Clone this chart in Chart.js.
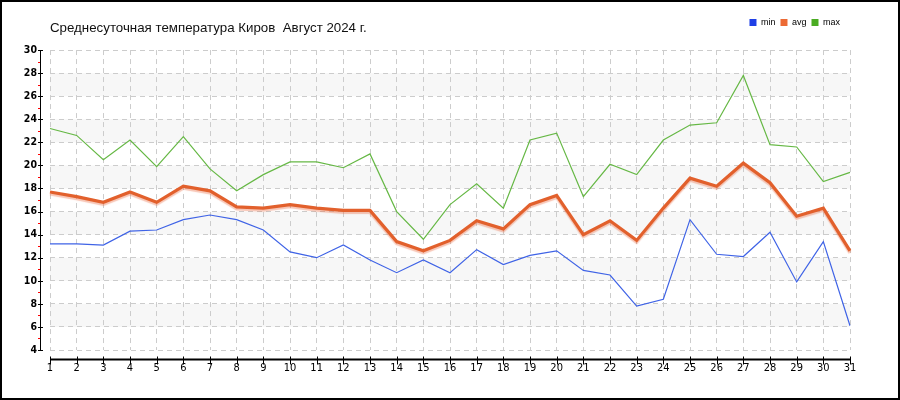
<!DOCTYPE html>
<html>
<head>
<meta charset="utf-8">
<script src="https://cdn.jsdelivr.net/npm/chart.js@4/dist/chart.umd.min.js"></script>
<style>
  html, body { margin: 0; padding: 0; background: #fff; }
  #wrap { width: 900px; height: 400px; position: relative; }
</style>
</head>
<body>
<div id="wrap"><canvas id="c" width="900" height="400"></canvas></div>
<script>
const titleText = 'Среднесуточная температура Киров  Август 2024 г.';
const days = ['1','2','3','4','5','6','7','8','9','10','11','12','13','14','15','16','17','18','19','20','21','22','23','24','25','26','27','28','29','30','31'];
const minTemps = [13.2,13.2,13.1,14.3,14.4,15.3,15.7,15.3,14.4,12.5,12.0,13.1,11.8,10.7,11.8,10.7,12.7,11.4,12.2,12.6,10.9,10.5,7.8,8.4,15.3,12.3,12.1,14.2,9.9,13.4,6.1];
const avgTemps = [17.7,17.3,16.8,17.7,16.8,18.2,17.8,16.4,16.3,16.6,16.3,16.1,16.1,13.4,12.6,13.5,15.2,14.5,16.6,17.4,14.0,15.2,13.5,16.3,18.9,18.2,20.2,18.5,15.6,16.3,12.6];
const maxTemps = [23.2,22.6,20.5,22.2,19.9,22.5,19.7,17.8,19.2,20.3,20.3,19.8,21.0,16.0,13.6,16.6,18.4,16.3,22.2,22.8,17.3,20.1,19.2,22.2,23.5,23.7,27.8,21.8,21.6,18.6,19.4];
const seriesNames = ['min','avg','max'];
const yMin = 4, yMax = 30, yStep = 2;

const lineColors = ['#3f63e6','#e2602c','#66b845'];
const legendColors = ['#1f3fe6','#ec6a34','#4aac22'];
const tickFont = "'Liberation Sans Narrow','DejaVu Sans Condensed','Liberation Sans',sans-serif";

const decor = {
  id: 'decor',
  afterLayout(chart) {
    const lg = chart.legend;
    if (lg) {
      lg.top += 4.5;
      lg.height = 30;
      lg.bottom = lg.top + 30;
      lg.right -= 5;
    }
  },
  beforeDraw(chart) {
    const {ctx, chartArea: a, scales: {y}} = chart;
    ctx.save();
    ctx.fillStyle = '#f7f7f7';
    for (let v = yMin + yStep; v < yMax; v += 2 * yStep) {
      const t = y.getPixelForValue(v + yStep), b = y.getPixelForValue(v);
      ctx.fillRect(a.left, t, a.right - a.left, b - t);
    }
    ctx.restore();
  },
  beforeDatasetDraw(chart, args) {
    if (args.index === 1) {
      const ctx = chart.ctx;
      ctx.save();
      ctx.shadowColor = 'rgba(235,110,70,0.4)';
      ctx.shadowOffsetX = 0;
      ctx.shadowOffsetY = 2;
      ctx.shadowBlur = 1;
    }
  },
  afterDatasetDraw(chart, args) {
    if (args.index === 1) chart.ctx.restore();
  },
  afterDraw(chart) {
    const {ctx, chartArea: a, scales: {x, y}} = chart;
    ctx.save();
    const ax = a.left - 10;
    ctx.strokeStyle = '#000';
    ctx.lineWidth = 1;
    ctx.beginPath();
    ctx.moveTo(ax + 0.5, y.getPixelForValue(yMax));
    ctx.lineTo(ax + 0.5, y.getPixelForValue(yMin) + 0.5);
    y.ticks.forEach(t => {
      const py = Math.round(y.getPixelForValue(t.value)) + 0.5;
      ctx.moveTo(ax - 2, py);
      ctx.lineTo(ax + 3, py);
    });
    ctx.stroke();
    ctx.strokeStyle = '#ff0000';
    ctx.beginPath();
    for (let v = yMin + 1; v < yMax; v += 2) {
      const py = Math.round(y.getPixelForValue(v)) + 0.5;
      ctx.moveTo(ax - 2, py);
      ctx.lineTo(ax, py);
    }
    ctx.stroke();
    const ay = a.bottom + 9.5;
    ctx.strokeStyle = '#000';
    ctx.lineWidth = 2;
    ctx.beginPath();
    ctx.moveTo(x.getPixelForValue(0), ay);
    ctx.lineTo(x.getPixelForValue(days.length - 1), ay);
    ctx.stroke();
    ctx.lineWidth = 1;
    ctx.beginPath();
    days.forEach((d, i) => {
      const px = Math.round(x.getPixelForValue(i)) + 0.5;
      ctx.moveTo(px, ay - 3);
      ctx.lineTo(px, ay + 5);
    });
    ctx.stroke();
    ctx.lineWidth = 2;
    ctx.strokeRect(1, 1, chart.width - 2, chart.height - 2);
    ctx.restore();
  }
};

const mk = (i, data, w) => ({
  label: seriesNames[i],
  data,
  borderColor: lineColors[i],
  backgroundColor: legendColors[i],
  borderWidth: w,
  pointRadius: 0,
  pointHoverRadius: 0,
  tension: 0,
  fill: false
});

new Chart(document.getElementById('c'), {
  type: 'line',
  data: {
    labels: days,
    datasets: [mk(0, minTemps, 1.2), mk(1, avgTemps, 3.2), mk(2, maxTemps, 1.2)]
  },
  options: {
    responsive: false,
    animation: false,
    events: [],
    layout: { padding: { left: 0, right: 50, top: 8.5, bottom: 0 } },
    plugins: {
      tooltip: { enabled: false },
      legend: {
        position: 'top',
        align: 'end',
        weight: 3000,
        maxHeight: 1,
        labels: {
          boxWidth: 7,
          boxHeight: 7,
          padding: 5,
          color: '#222',
          font: { family: "'Liberation Sans','DejaVu Sans',sans-serif", size: 9 },
          generateLabels(chart) {
            return chart.data.datasets.map((ds, i) => ({
              text: ds.label,
              fillStyle: legendColors[i],
              strokeStyle: legendColors[i],
              lineWidth: 0,
              hidden: false,
              datasetIndex: i
            }));
          }
        }
      },
      title: {
        display: true,
        fullSize: false,
        text: titleText,
        align: 'start',
        color: '#111',
        font: { family: "'Liberation Sans',sans-serif", size: 13.3, weight: 'normal', lineHeight: 1.2 },
        padding: { top: 11.2, bottom: 13.4 }
      }
    },
    scales: {
      x: {
        type: 'category',
        offset: false,
        afterFit(s) { s.height = 50; },
        grid: { display: true, color: '#cccccc', lineWidth: 1, drawTicks: false, drawOnChartArea: true },
        border: { display: false, dash: [5, 4] },
        ticks: { color: '#000', padding: 12, maxRotation: 0, autoSkip: false, font: { family: tickFont, size: 11 } }
      },
      y: {
        min: yMin,
        max: yMax,
        afterFit(s) { s.width = 50; },
        grid: { color: '#cccccc', lineWidth: 1, drawTicks: false },
        border: { display: false, dash: [5, 4] },
        ticks: { stepSize: yStep, color: '#000', padding: 13, font: { family: tickFont, size: 10.5, weight: 'bold' } }
      }
    }
  },
  plugins: [decor]
});
</script>
</body>
</html>
